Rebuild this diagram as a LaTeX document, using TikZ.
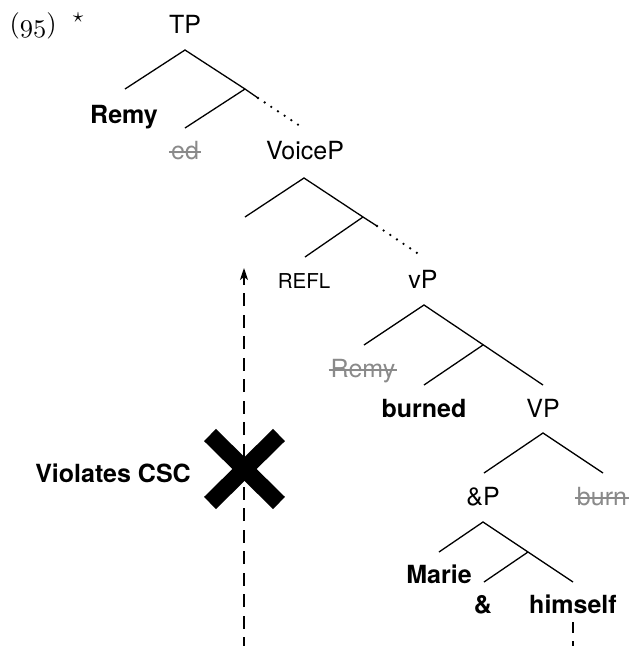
\documentclass[tikz,border=0pt]{standalone}
\usepackage{fontspec}
\setsansfont{TeX Gyre Heros}
\usetikzlibrary{arrows.meta}
\definecolor{strikegray}{HTML}{8A8A8A}
\tikzset{
  lbl/.style={anchor=base,inner sep=0pt,font=\sffamily\fontsize{25}{30}\selectfont},
  blbl/.style={lbl,font=\sffamily\bfseries\fontsize{25}{30}\selectfont},
  glbl/.style={lbl,text=strikegray,inner xsep=2pt},
  strikeline/.style={draw=strikegray,line width=1.3pt},
  branch/.style={line width=1.3pt},
  dotbranch/.style={line width=2.6pt,dash pattern=on 0pt off 8pt,line cap=round},
  movedash/.style={line width=1.2pt,dash pattern=on 13pt off 8.5pt},
  bigx/.style={line width=17pt,line cap=butt}
}
\begin{document}
\begin{tikzpicture}[x=1pt,y=-1pt]
\useasboundingbox (0,0) rectangle (631,646);
% example number and star
\node[anchor=base west,inner sep=0pt,font=\fontsize{10}{12}\selectfont,scale=2.65] (num) at (9,32) {($\mathnormal{95}$)};
\node[inner sep=0pt,font=\fontsize{10}{12}\selectfont,scale=2.1] (star) at (78,18) {$\star$};
% labels
\node[lbl] (TP) at (185,33) {TP};
\node[blbl] (remy) at (124,123) {Remy};
\node[glbl] (ed) at (185,159) {ed};
\node[lbl] (voiceP) at (305,159) {VoiceP};
\node[lbl,font=\sffamily\fontsize{20.5}{24}\selectfont] (refl) at (304,288) {REFL};
\node[lbl] (vP) at (423,288) {vP};
\node[glbl] (remyt) at (363,377) {Remy};
\node[blbl] (burned) at (424,417) {burned};
\node[lbl] (VP) at (543,417) {VP};
\node[lbl] (andP) at (483,505) {\&P};
\node[glbl] (burn) at (602,505) {burn};
\node[blbl] (marie) at (439,583) {Marie};
\node[blbl] (amp) at (483,613) {\&};
\node[blbl] (himself) at (573,613) {himself};
\node[blbl] (csc) at (113,482) {Violates CSC};
% strike-throughs
\draw[strikeline] ([yshift=7pt]ed.base west) -- ([yshift=7pt]ed.base east);
\draw[strikeline] ([yshift=7pt]remyt.base west) -- ([yshift=7pt]remyt.base east);
\draw[strikeline] ([yshift=7pt]burn.base west) -- ([yshift=7pt]burn.base east);
% tree coordinates
\coordinate (t0) at (185,50); \coordinate (tl) at (125,89); \coordinate (tm) at (245,89);
\coordinate (ts) at (258,98); \coordinate (td) at (303,128); \coordinate (tmd) at (185,128);
\coordinate (v0) at (304,178); \coordinate (vl) at (245,217); \coordinate (vm) at (363,217);
\coordinate (vs) at (377,226); \coordinate (vd) at (423,257); \coordinate (vmd) at (305,257);
\coordinate (p0) at (424,305); \coordinate (pl) at (364,345); \coordinate (pm) at (483,345);
\coordinate (pr) at (543,385); \coordinate (pmd) at (424,385);
\coordinate (q0) at (543,433); \coordinate (ql) at (484,473); \coordinate (qr) at (603,473);
\coordinate (a0) at (483,522); \coordinate (al) at (439,552); \coordinate (am) at (528,552);
\coordinate (ar) at (573,582); \coordinate (amd) at (484,582);
% TP
\draw[branch] (tl) -- (t0) -- (tm) -- (ts);
\draw[branch] (tm) -- (tmd);
\draw[dotbranch] (ts) -- (td);
% VoiceP
\draw[branch] (vl) -- (v0) -- (vm) -- (vs);
\draw[branch] (vm) -- (vmd);
\draw[dotbranch] (vs) -- (vd);
% vP
\draw[branch] (pl) -- (p0) -- (pr);
\draw[branch] (pm) -- (pmd);
% VP
\draw[branch] (ql) -- (q0) -- (qr);
% &P
\draw[branch] (al) -- (a0) -- (ar);
\draw[branch] (am) -- (amd);
% movement
\coordinate (arrowtop) at (244,268);
\coordinate (arrowbot) at (244,650);
\coordinate (hbot) at (573,650);
\draw[movedash,-{Stealth[length=12pt,width=8pt,inset=3pt]}] (arrowbot) -- (arrowtop);
\draw[movedash,dash pattern=on 11pt off 8pt] ([yshift=-9pt]himself.base) -- (hbot);
% big X
\coordinate (x1) at (210,435); \coordinate (x2) at (279,503);
\coordinate (x3) at (279,435); \coordinate (x4) at (210,503);
\draw[bigx] (x1) -- (x2);
\draw[bigx] (x3) -- (x4);
\end{tikzpicture}
\end{document}
